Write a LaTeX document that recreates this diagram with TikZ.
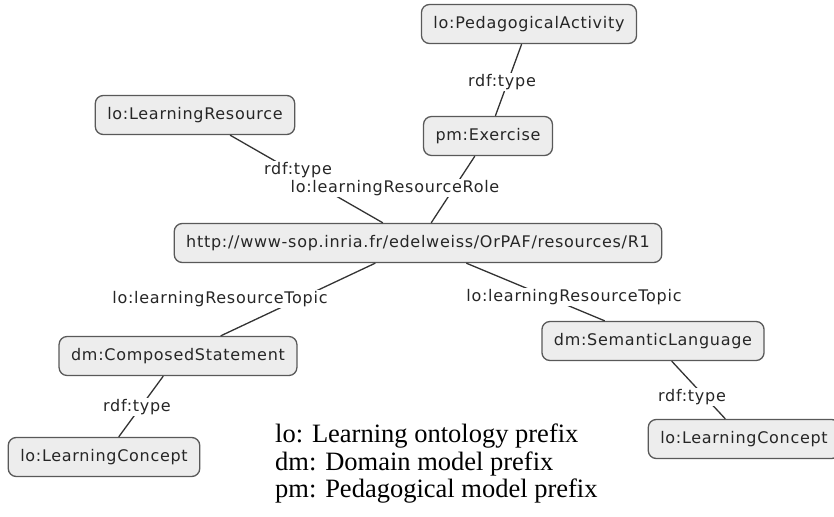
\documentclass[tikz,border=0pt]{standalone}
\usepackage{fontspec}
\setmainfont[LetterSpace=4.5]{DejaVu Sans}
\newfontfamily\legendfont{Liberation Serif}
\usetikzlibrary{calc}
\tikzset{
  concept/.style={draw=black!65, fill=black!7, rounded corners=8pt, line width=1.3pt,
    text=black!85, minimum height=39pt, inner xsep=12pt, font=\fontsize{16}{19}\selectfont},
  edgelabel/.style={fill=white, inner xsep=3pt, inner ysep=1pt, text=black!85, font=\fontsize{16}{19}\selectfont},
  link/.style={line width=1.3pt, color=black!80}
}

\begin{document}
\begin{tikzpicture}[x=1pt, y=-1pt]
			%%%%% START %%%%%
			\useasboundingbox (0, 0) rectangle (834, 516);
			
			\node[concept] (pedact) at (529, 24) {lo:PedagogicalActivity};
			\node[concept] (exercise) at (488, 136) {pm:Exercise};
			\node[concept] (learnres) at (195, 115) {lo:LearningResource};
			\node[concept] (resource) at (418, 243) {http://www-sop.inria.fr/edelweiss/OrPAF/resources/R1};
			\node[concept] (composed) at (178, 356) {dm:ComposedStatement};
			\node[concept] (semlang) at (653, 341) {dm:SemanticLanguage};
			\node[concept] (conceptl) at (104, 457) {lo:LearningConcept};
			\node[concept] (conceptr) at (744, 439) {lo:LearningConcept};
			
			\draw[link] (pedact) -- (exercise);
			\draw[link] (exercise) -- (resource);
			\draw[link] (learnres) -- (resource);
			\draw[link] (resource) -- (composed);
			\draw[link] (resource) -- (semlang);
			\draw[link] (composed) -- (conceptl);
			\draw[link] (semlang) -- (conceptr);
			
			\node[edgelabel] (typepa) at (502, 82) {rdf:type};
			\node[edgelabel] (typelr) at (298, 170) {rdf:type};
			\node[edgelabel] (rolelbl) at (395, 188) {lo:learningResourceRole};
			\node[edgelabel] (topicl) at (220, 299) {lo:learningResourceTopic};
			\node[edgelabel] (topicr) at (574, 297) {lo:learningResourceTopic};
			\node[edgelabel] (typecs) at (137, 407) {rdf:type};
			\node[edgelabel] (typesl) at (692, 397) {rdf:type};
			
			\node[anchor=north west, align=left, inner sep=0pt,
			  font=\legendfont\fontsize{26.5}{27.5}\selectfont] (legend) at (275, 424)
			  {lo: Learning ontology prefix\\dm: Domain model prefix\\pm: Pedagogical model prefix};
			%%%%% END %%%%%
\end{tikzpicture}
\end{document}
